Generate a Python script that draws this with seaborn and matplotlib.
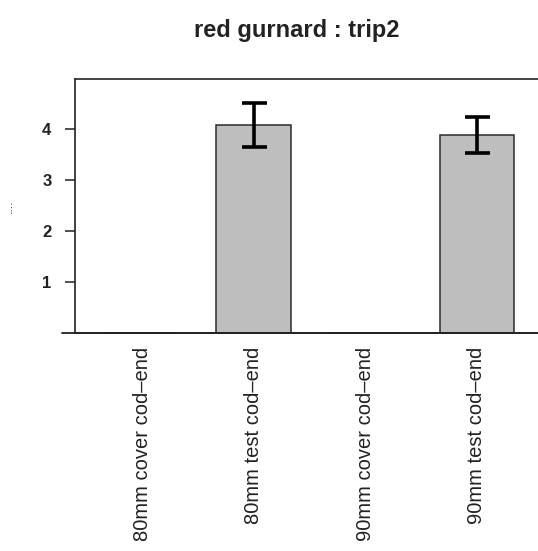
"""Bar chart of catch per cod-end for red gurnard, trip 2 (seaborn)."""
import matplotlib
matplotlib.use('Agg')
import matplotlib.pyplot as plt
import numpy as np
import pandas as pd
import seaborn as sns

# data
codends = ["80mm cover cod\u2013end", "80mm test cod\u2013end",
           "90mm cover cod\u2013end", "90mm test cod\u2013end"]
means = [0.0, 4.07, 0.0, 3.88]
errors = [np.nan, 0.43, np.nan, 0.36]
yticks = [1, 2, 3, 4]

df = pd.DataFrame({"codend": codends, "mean": means})

sns.set_theme(style="white")
plt.rcParams['font.family'] = ['Liberation Sans', 'DejaVu Sans']

fig = plt.figure(figsize=(5.38, 5.51), dpi=100)
ax = fig.add_axes([75 / 538, 218 / 551, 469 / 538, 254 / 551])

sns.barplot(data=df, x="codend", y="mean", color="#bebebe", saturation=1,
            width=0.667, edgecolor="#2b2b2b", linewidth=1.1, ax=ax)
ax.errorbar(np.arange(len(codends)), means, yerr=errors, fmt="none",
            ecolor="black", elinewidth=2.6, capsize=9, capthick=2.6, zorder=5)

ax.set_xlim(-0.6, 3.6)
ax.set_ylim(0, 4.98)
ax.set_yticks(yticks)
ax.set_yticklabels([str(t) for t in yticks], fontsize=12, fontweight="bold",
                   color="#222222")
ax.tick_params(axis="y", left=True, length=7, width=1.1, pad=10, color="#222222")
ax.tick_params(axis="x", bottom=False, pad=4)
for lab in ax.get_xticklabels():
    lab.set_rotation(90)
    lab.set_fontsize(14.5)
    lab.set_color("#222222")
    lab.set_va("top")

for side in ["left", "bottom", "top", "right"]:
    ax.spines[side].set_color("#222222")
    ax.spines[side].set_linewidth(1.2)

# base line extending a little left of the box, as in the R barplot
ax.axhline(0, xmin=-0.028, xmax=1, color="#222222", lw=1.3, clip_on=False)

ax.set_xlabel("")
ax.set_ylabel("....", fontsize=9, color="#333333")
ax.yaxis.set_label_coords(-60 / 469, 0.5)

fig.text(297 / 538, 1 - 30 / 551, "red gurnard : trip2", ha="center",
         va="center", fontsize=17, fontweight="bold", color="#222222")

fig.savefig("out.png", dpi=100)
plt.close(fig)
